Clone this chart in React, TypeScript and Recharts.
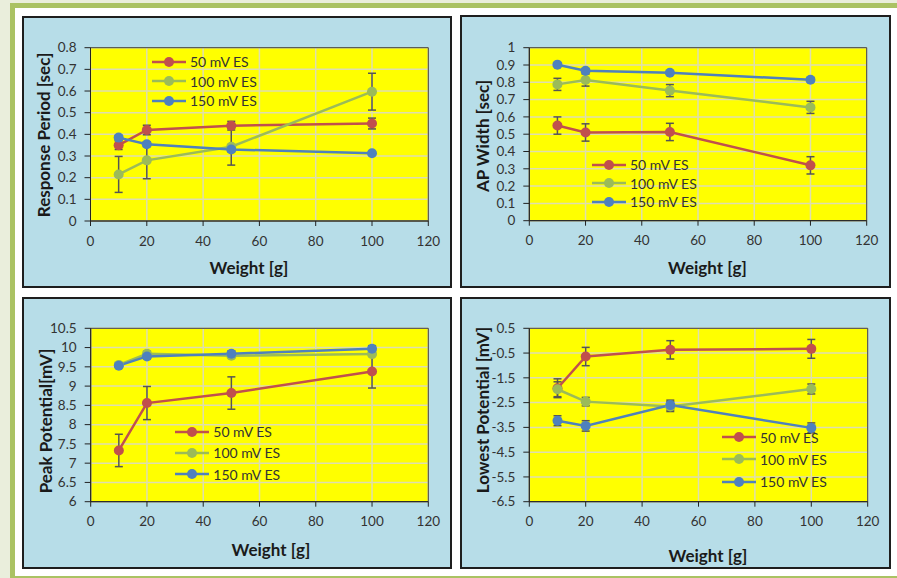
import React from 'react';
import { LineChart, Line, XAxis, YAxis, CartesianGrid, ErrorBar, Legend, ReferenceArea } from 'recharts';

const weights = [10, 20, 50, 100];
const seriesNames = ['50 mV ES', '100 mV ES', '150 mV ES'];
const seriesColors = ['#c0504d', '#9bbb59', '#4f81bd'];
const xTicks = [0, 20, 40, 60, 80, 100, 120];
const xTitle = 'Weight [g]';

// Response Period [sec]
const rp50 = [0.35, 0.42, 0.44, 0.45];
const rp50Err = [0.02, 0.022, 0.02, 0.025];
const rp100 = [0.215, 0.28, 0.343, 0.597];
const rp100Err = [0.083, 0.085, 0.085, 0.085];
const rp150 = [0.385, 0.354, 0.33, 0.313];
const rp150Err = [0.01, 0.01, 0.01, 0.008];
const rpTicks = [0, 0.1, 0.2, 0.3, 0.4, 0.5, 0.6, 0.7, 0.8];

// AP Width [sec]
const ap50 = [0.55, 0.51, 0.513, 0.32];
const ap50Err = [0.05, 0.05, 0.05, 0.05];
const ap100 = [0.788, 0.813, 0.752, 0.655];
const ap100Err = [0.035, 0.035, 0.035, 0.035];
const ap150 = [0.902, 0.867, 0.855, 0.815];
const ap150Err = [0.01, 0.01, 0.01, 0.012];
const apTicks = [0, 0.1, 0.2, 0.3, 0.4, 0.5, 0.6, 0.7, 0.8, 0.9, 1];

// Peak Potential [mV]
const pp50 = [7.33, 8.56, 8.82, 9.38];
const pp50Err = [0.42, 0.43, 0.42, 0.43];
const pp100 = [9.55, 9.84, 9.79, 9.83];
const pp100Err = [0.05, 0.06, 0.05, 0.05];
const pp150 = [9.53, 9.77, 9.84, 9.97];
const pp150Err = [0.05, 0.06, 0.07, 0.08];
const ppTicks = [6, 6.5, 7, 7.5, 8, 8.5, 9, 9.5, 10, 10.5];

// Lowest Potential [mV]
const lp50 = [-1.92, -0.64, -0.37, -0.33];
const lp50Err = [0.38, 0.37, 0.37, 0.38];
const lp100 = [-1.96, -2.46, -2.66, -1.95];
const lp100Err = [0.3, 0.17, 0.2, 0.2];
const lp150 = [-3.23, -3.44, -2.6, -3.52];
const lp150Err = [0.2, 0.21, 0.2, 0.2];
const lpTicks = [-6.5, -5.5, -4.5, -3.5, -2.5, -1.5, -0.5, 0.5];

const FONT = 'Lato, "Open Sans", sans-serif';

function buildRows(s50: number[], e50: number[], s100: number[], e100: number[], s150: number[], e150: number[]) {
  return weights.map((w, i) => ({
    w,
    s50: s50[i], e50: e50[i],
    s100: s100[i], e100: e100[i],
    s150: s150[i], e150: e150[i],
  }));
}

const seriesKeys = [['s50', 'e50'], ['s100', 'e100'], ['s150', 'e150']];

type PanelProps = {
  box: [number, number, number, number];
  plot: { left: number; top: number; right: number; bottom: number };
  rows: any[];
  yTicks: number[];
  yTitle: string;
  yTitlePos: [number, number];
  xTitlePos: [number, number];
  legend: { x: number; y: number; gap: number };
};

function Panel({ box, plot, rows, yTicks, yTitle, yTitlePos, xTitlePos, legend }: PanelProps) {
  const [pl, pt, pw, ph] = box;
  const margin = { top: plot.top - pt, right: pl + pw - plot.right, bottom: 0, left: 0 };
  const yAxisWidth = plot.left - pl;
  const xAxisHeight = pt + ph - plot.bottom;
  const yMin = yTicks[0];
  const yMax = yTicks[yTicks.length - 1];
  const tickStyle = { fill: '#333', fontSize: 13.5, fontFamily: FONT };

  const legendContent = () => (
    <div style={{ fontFamily: FONT }}>
      {seriesNames.map((name, i) => (
        <div key={name} style={{ display: 'flex', alignItems: 'center', height: legend.gap }}>
          <svg width={34} height={14} style={{ display: 'block' }}>
            <line x1={0} y1={7} x2={34} y2={7} stroke={seriesColors[i]} strokeWidth={2.5} />
            <circle cx={17} cy={7} r={5} fill={seriesColors[i]} />
          </svg>
          <span style={{ marginLeft: 4, fontSize: 14, color: '#333', whiteSpace: 'nowrap' }}>{name}</span>
        </div>
      ))}
    </div>
  );

  return (
    <>
      <div
        style={{
          position: 'absolute', left: pl, top: pt, width: pw, height: ph,
          boxSizing: 'border-box', border: '2px solid #1e1e1e', background: '#b7dde8',
        }}
      />
      <div style={{ position: 'absolute', left: pl, top: pt, width: pw, height: ph }}>
        <LineChart width={pw} height={ph} data={rows} margin={margin}>
          <CartesianGrid fill="#ffff00" stroke="#dedeb0" strokeWidth={1.5} />
          <XAxis
            dataKey="w" type="number" domain={[0, 120]} ticks={xTicks} interval={0}
            height={xAxisHeight} tickSize={5} tickMargin={10} tick={tickStyle}
            axisLine={{ stroke: '#222' }} tickLine={{ stroke: '#222' }} allowDataOverflow
          />
          <YAxis
            type="number" domain={[yMin, yMax]} ticks={yTicks} interval={0}
            width={yAxisWidth} tickSize={6} tickMargin={8} tick={tickStyle}
            axisLine={{ stroke: '#222' }} tickLine={{ stroke: '#222' }} allowDataOverflow
          />
          <ReferenceArea x1={0} x2={120} y1={yMin} y2={yMax} fill="none" stroke="#404040" strokeWidth={1} fillOpacity={0} />
          {seriesKeys.map(([k, ek], i) => (
            <Line
              key={k} dataKey={k} name={seriesNames[i]} stroke={seriesColors[i]} strokeWidth={2.5}
              dot={{ r: 5, fill: seriesColors[i], stroke: seriesColors[i], strokeWidth: 0 }}
              activeDot={false} isAnimationActive={false}
            >
              <ErrorBar dataKey={ek} width={4} stroke="#555" strokeWidth={1.5} direction="y" isAnimationActive={false} />
            </Line>
          ))}
          <Legend
            layout="vertical" align="center" verticalAlign="middle"
            wrapperStyle={{ left: legend.x - pl, top: legend.y - legend.gap / 2 - pt, width: 'auto', height: 'auto' }}
            content={legendContent}
          />
        </LineChart>
      </div>
      <div
        style={{
          position: 'absolute', left: xTitlePos[0], top: xTitlePos[1], transform: 'translate(-50%, -50%)',
          fontFamily: FONT, fontWeight: 700, fontSize: 17, color: '#1a1a1a', whiteSpace: 'nowrap',
        }}
      >
        {xTitle}
      </div>
      <div
        style={{
          position: 'absolute', left: yTitlePos[0], top: yTitlePos[1], transform: 'translate(-50%, -50%) rotate(-90deg)',
          fontFamily: FONT, fontWeight: 700, fontSize: 17, color: '#1a1a1a', whiteSpace: 'nowrap',
        }}
      >
        {yTitle}
      </div>
    </>
  );
}

export default function App() {
  return (
    <div style={{ position: 'absolute', left: 0, top: 0, width: 897, height: 578, overflow: 'hidden', background: '#eaeedc', fontFamily: FONT }}>
      <div
        style={{
          position: 'absolute', left: 10, top: 3, width: 900, height: 575, boxSizing: 'border-box',
          borderLeft: '5px solid #aac263', borderTop: '5px solid #aac263', borderBottom: '2px solid #aac263',
          background: '#ffffff',
        }}
      />
      <Panel
        box={[22, 16, 430, 272]}
        plot={{ left: 90.5, top: 47.7, right: 428.3, bottom: 221 }}
        rows={buildRows(rp50, rp50Err, rp100, rp100Err, rp150, rp150Err)}
        yTicks={rpTicks}
        yTitle="Response Period [sec]"
        yTitlePos={[43.3, 134.5]}
        xTitlePos={[249, 266.7]}
        legend={{ x: 152, y: 61.7, gap: 19.6 }}
      />
      <Panel
        box={[460, 15, 431, 273]}
        plot={{ left: 529.3, top: 47.7, right: 866.7, bottom: 220.7 }}
        rows={buildRows(ap50, ap50Err, ap100, ap100Err, ap150, ap150Err)}
        yTicks={apTicks}
        yTitle="AP Width [sec]"
        yTitlePos={[481.7, 136]}
        xTitlePos={[707.5, 266.7]}
        legend={{ x: 592, y: 165, gap: 18.3 }}
      />
      <Panel
        box={[22, 297, 430, 272]}
        plot={{ left: 90.7, top: 328.3, right: 428.3, bottom: 501.7 }}
        rows={buildRows(pp50, pp50Err, pp100, pp100Err, pp150, pp150Err)}
        yTicks={ppTicks}
        yTitle="Peak Potential[mV]"
        yTitlePos={[45, 421]}
        xTitlePos={[271, 549]}
        legend={{ x: 175.3, y: 431.7, gap: 21.3 }}
      />
      <Panel
        box={[460, 297, 431, 272]}
        plot={{ left: 529.3, top: 328.3, right: 867.7, bottom: 501.7 }}
        rows={buildRows(lp50, lp50Err, lp100, lp100Err, lp150, lp150Err)}
        yTicks={lpTicks}
        yTitle="Lowest Potential [mV]"
        yTitlePos={[481.7, 410]}
        xTitlePos={[708, 555]}
        legend={{ x: 722, y: 437.3, gap: 22.2 }}
      />
    </div>
  );
}
